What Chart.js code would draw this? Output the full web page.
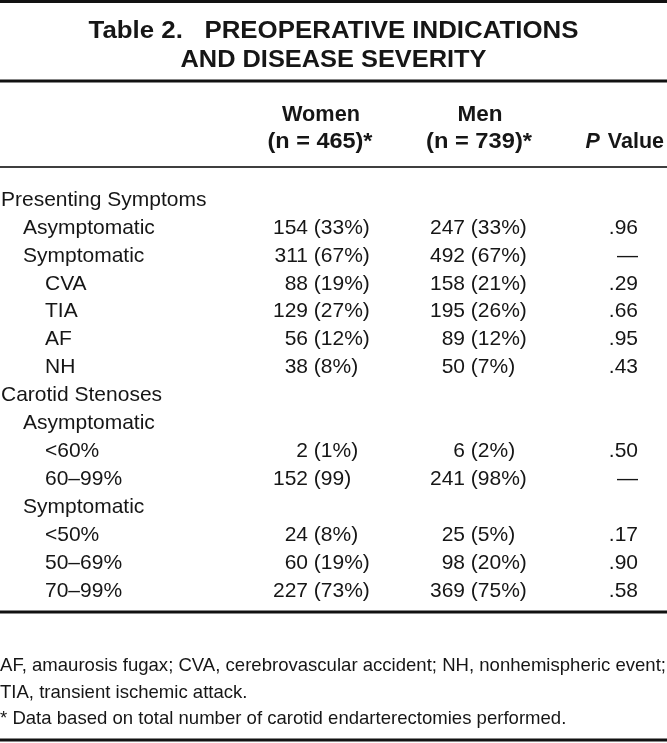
<!DOCTYPE html>
<html>
<head>
<meta charset="utf-8">
<script src="https://cdn.jsdelivr.net/npm/chart.js@4.4.0/dist/chart.umd.min.js"></script>
<style>
  html, body { margin: 0; padding: 0; background: #fff; }
  #wrap { width: 667px; height: 743px; }
</style>
</head>
<body>
<div id="wrap"><canvas id="table2" width="667" height="743"></canvas></div>
<script>
const titleLines = ['Table 2.   PREOPERATIVE INDICATIONS', 'AND DISEASE SEVERITY'];
const headWomen = ['Women', '(n = 465)*'];
const headMen = ['Men', '(n = 739)*'];
const headP = ['P', ' Value'];

const rowLabels = ['Presenting Symptoms', 'Asymptomatic', 'Symptomatic', 'CVA', 'TIA', 'AF', 'NH',
    'Carotid Stenoses', 'Asymptomatic', '<60%', '60–99%', 'Symptomatic', '<50%', '50–69%', '70–99%'];
const rowLevel = [0, 1, 1, 2, 2, 2, 2, 0, 1, 2, 2, 1, 2, 2, 2];

const womenCount = [null, 154, 311, 88, 129, 56, 38, null, null, 2, 152, null, 24, 60, 227];
const womenPct = [null, '33%', '67%', '19%', '27%', '12%', '8%', null, null, '1%', '99', null, '8%', '19%', '73%'];
const menCount = [null, 247, 492, 158, 195, 89, 50, null, null, 6, 241, null, 25, 98, 369];
const menPct = [null, '33%', '67%', '21%', '26%', '12%', '7%', null, null, '2%', '98%', null, '5%', '20%', '75%'];
const pValues = [null, '.96', '—', '.29', '.66', '.95', '.43', null, null, '.50', '—', null, '.17', '.90', '.58'];

const footnotes = [
    'AF, amaurosis fugax; CVA, cerebrovascular accident; NH, nonhemispheric event;',
    'TIA, transient ischemic attack.',
    '* Data based on total number of carotid endarterectomies performed.'
];

// layout (x scale runs across the page width)
const COL_WOMEN = 308, COL_MEN = 465, COL_P = 638;
const INDENT = 22;
const FONT = '"Liberation Sans", Arial, Helvetica, sans-serif';
const INK = '#161616';

function cells(counts, pcts, col) {
    const out = [];
    counts.forEach((c, i) => {
        if (c !== null) out.push({ x: col, y: i, count: String(c), pct: '(' + pcts[i] + ')' });
    });
    return out;
}

const labelCells = rowLabels.map((t, i) => ({ x: 1 + rowLevel[i] * INDENT, y: i, text: t }));
const pCells = [];
pValues.forEach((p, i) => { if (p !== null) pCells.push({ x: COL_P, y: i, text: p }); });

function fitText(ctx, text, x, y, w, align) {
    const nat = ctx.measureText(text).width;
    ctx.save();
    ctx.translate(x, y);
    ctx.scale(w / nat, 1);
    ctx.textAlign = align;
    ctx.fillText(text, 0, 0);
    ctx.restore();
}

function rule(ctx, y, lw) {
    ctx.fillStyle = '#111';
    ctx.fillRect(0, y - lw / 2, 667, lw);
}

const tablePlugin = {
    id: 'tableText',
    afterDatasetsDraw(chart) {
        const ctx = chart.ctx;
        const x = chart.scales.x;
        ctx.save();
        ctx.textBaseline = 'middle';
        ctx.fillStyle = INK;

        // title
        ctx.font = 'bold 24px ' + FONT;
        fitText(ctx, titleLines[0], 333.5, 31, 490, 'center');
        fitText(ctx, titleLines[1], 333.5, 60, 306, 'center');

        // rules
        rule(ctx, 1.5, 3);
        rule(ctx, 81, 3);
        rule(ctx, 167, 1.6);
        rule(ctx, 612, 3);
        rule(ctx, 740, 3);

        // column heads
        ctx.fillStyle = INK;
        ctx.font = 'bold 21.5px ' + FONT;
        fitText(ctx, headWomen[0], x.getPixelForValue(COL_WOMEN + 13), 115, 78, 'center');
        fitText(ctx, headWomen[1], x.getPixelForValue(COL_WOMEN + 12), 142, 105, 'center');
        fitText(ctx, headMen[0], x.getPixelForValue(COL_MEN + 15), 115, 45, 'center');
        fitText(ctx, headMen[1], x.getPixelForValue(COL_MEN + 14), 142, 106, 'center');
        ctx.textAlign = 'right';
        const vw = ctx.measureText(headP[1]).width;
        ctx.fillText(headP[1], 664, 142);
        ctx.font = 'italic bold 21.5px ' + FONT;
        ctx.fillText(headP[0], 662 - vw, 142);

        // body cells
        ctx.font = '21px ' + FONT;
        const space = ctx.measureText(' ').width;
        chart.data.datasets.forEach((ds, di) => {
            const meta = chart.getDatasetMeta(di);
            meta.data.forEach((pt, j) => {
                const raw = ds.data[j];
                if (ds.kind === 'label') {
                    ctx.textAlign = 'left';
                    ctx.fillText(raw.text, pt.x, pt.y);
                } else if (ds.kind === 'count') {
                    ctx.textAlign = 'right';
                    ctx.fillText(raw.count, pt.x, pt.y);
                    ctx.textAlign = 'left';
                    ctx.fillText(raw.pct, pt.x + space, pt.y);
                } else {
                    ctx.textAlign = 'right';
                    ctx.fillText(raw.text, pt.x, pt.y);
                }
            });
        });

        // footnotes
        ctx.font = '19px ' + FONT;
        const s = 666 / ctx.measureText(footnotes[0]).width;
        footnotes.forEach((t, i) => {
            ctx.save();
            ctx.translate(0, 666 + i * 26.5);
            ctx.scale(s, 1);
            ctx.textAlign = 'left';
            ctx.fillText(t, 0, 0);
            ctx.restore();
        });
        ctx.restore();
    }
};

function cellSet(kind, data) {
    return { kind: kind, data: data, pointRadius: 0, showLine: false };
}

new Chart(document.getElementById('table2'), {
    type: 'scatter',
    data: {
        datasets: [
            cellSet('label', labelCells),
            cellSet('count', cells(womenCount, womenPct, COL_WOMEN)),
            cellSet('count', cells(menCount, menPct, COL_MEN)),
            cellSet('p', pCells)
        ]
    },
    options: {
        responsive: false,
        devicePixelRatio: 1,
        animation: false,
        events: [],
        layout: { padding: { top: 186, bottom: 138, left: 0, right: 0 } },
        plugins: { legend: { display: false }, tooltip: { enabled: false }, title: { display: false } },
        scales: {
            x: { type: 'linear', min: 0, max: 667, display: false },
            y: { type: 'linear', reverse: true, min: -0.5, max: rowLabels.length - 0.5, display: false }
        }
    },
    plugins: [tablePlugin]
});
</script>
</body>
</html>
